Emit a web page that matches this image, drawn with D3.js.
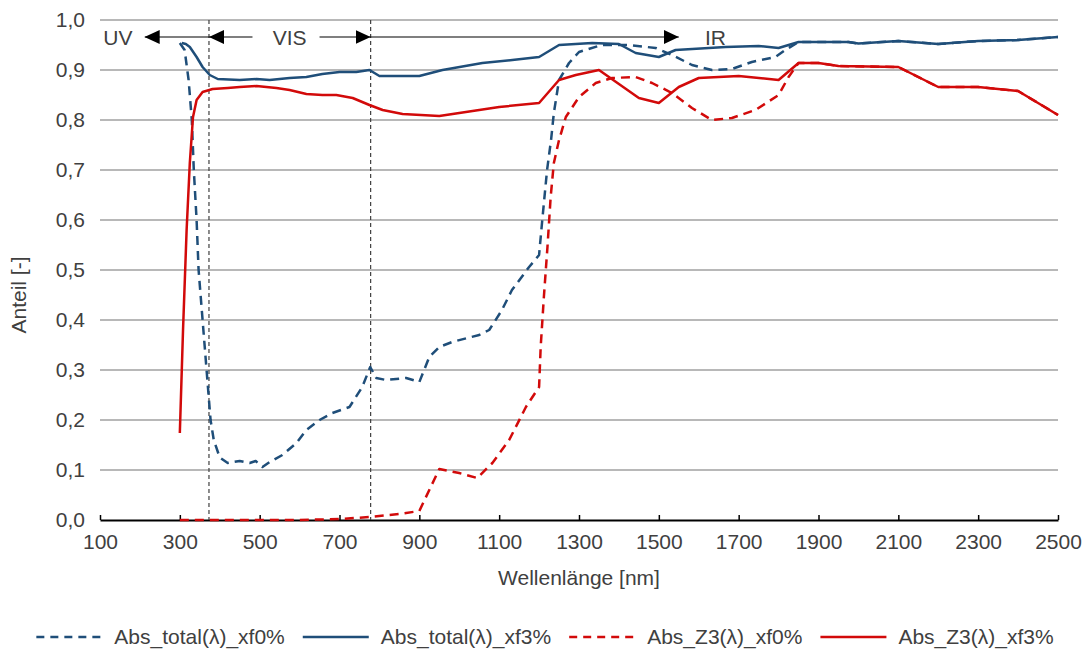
<!DOCTYPE html>
<html>
<head>
<meta charset="utf-8">
<script src="https://cdn.jsdelivr.net/npm/d3@7"></script>
<style>
  body { margin: 0; background: #fff; }
  text { font-family: "Liberation Sans", Arial, sans-serif; fill: #404040; }
</style>
</head>
<body>
<svg id="chart"></svg>
<script>
// wavelength [nm] / share values
var totalXf0 = [[300,0.954],[312,0.94],[322,0.88],[330,0.80],[335,0.70],[342,0.60],[347,0.50],[357,0.40],[367,0.30],[377,0.20],[385,0.16],[400,0.125],[420,0.114],[450,0.118],[475,0.114],[490,0.118],[507,0.106],[525,0.116],[557,0.13],[592,0.154],[617,0.18],[650,0.20],[682,0.214],[725,0.226],[757,0.266],[777,0.306],[792,0.284],[817,0.28],[867,0.284],[900,0.276],[925,0.326],[950,0.346],[982,0.356],[1050,0.37],[1075,0.38],[1107,0.42],[1132,0.46],[1175,0.506],[1200,0.53],[1208,0.6],[1220,0.70],[1230,0.76],[1237,0.814],[1250,0.88],[1275,0.914],[1300,0.936],[1357,0.95],[1425,0.95],[1492,0.944],[1533,0.93],[1583,0.91],[1633,0.90],[1683,0.902],[1733,0.916],[1792,0.926],[1817,0.94],[1850,0.956],[1975,0.956],[2000,0.953],[2100,0.958],[2200,0.952],[2300,0.958],[2400,0.96],[2500,0.966]];
var totalXf3 = [[305,0.954],[315,0.952],[325,0.946],[342,0.926],[357,0.906],[375,0.89],[395,0.882],[450,0.88],[492,0.882],[525,0.88],[575,0.884],[617,0.886],[657,0.892],[700,0.896],[742,0.896],[775,0.9],[800,0.888],[900,0.888],[958,0.90],[1058,0.914],[1133,0.92],[1200,0.926],[1250,0.95],[1333,0.954],[1400,0.952],[1442,0.934],[1500,0.926],[1542,0.94],[1667,0.946],[1750,0.948],[1800,0.944],[1850,0.956],[1975,0.956],[2000,0.953],[2100,0.958],[2200,0.952],[2300,0.958],[2400,0.96],[2500,0.966]];
var z3Xf0 = [[300,0],[400,0],[500,0],[600,0],[700,0.002],[775,0.006],[850,0.012],[900,0.018],[950,0.102],[1000,0.094],[1045,0.084],[1083,0.114],[1125,0.16],[1167,0.226],[1200,0.266],[1204,0.346],[1212,0.446],[1221,0.546],[1229,0.646],[1237,0.714],[1250,0.76],[1267,0.806],[1300,0.846],[1342,0.874],[1383,0.884],[1442,0.886],[1483,0.874],[1533,0.854],[1583,0.824],[1633,0.80],[1683,0.804],[1742,0.82],[1800,0.85],[1825,0.886],[1850,0.914],[1900,0.914],[1950,0.908],[2100,0.906],[2200,0.866],[2300,0.866],[2400,0.858],[2500,0.81]];
var z3Xf3 = [[300,0.174],[308,0.38],[317,0.58],[325,0.714],[333,0.806],[342,0.84],[357,0.856],[382,0.862],[420,0.864],[450,0.866],[492,0.868],[542,0.864],[575,0.86],[617,0.852],[657,0.85],[692,0.85],[733,0.844],[775,0.83],[808,0.82],[858,0.812],[950,0.808],[1100,0.826],[1200,0.834],[1250,0.88],[1292,0.89],[1350,0.90],[1450,0.844],[1500,0.834],[1550,0.866],[1600,0.884],[1700,0.888],[1800,0.88],[1850,0.914],[1900,0.914],[1950,0.908],[2100,0.906],[2200,0.866],[2300,0.866],[2400,0.858],[2500,0.81]];

var seriesNames = ["Abs_total(λ)_xf0%", "Abs_total(λ)_xf3%", "Abs_Z3(λ)_xf0%", "Abs_Z3(λ)_xf3%"];
var xTicks = [100,300,500,700,900,1100,1300,1500,1700,1900,2100,2300,2500];
var yTicks = [0,0.1,0.2,0.3,0.4,0.5,0.6,0.7,0.8,0.9,1.0];

// range borders (dashed verticals) and arrow annotations, in nm
var borders = [373, 778];
var bandArrows = [
    {from: 373, to: 212},
    {from: 482, to: 373},
    {from: 650, to: 778},
    {from: 778, to: 1550}
];
var bandLabels = [["UV", 145], ["VIS", 575], ["IR", 1642]];
var arrowLevel = 0.966;

var width = 1090, height = 650;
var margin = {top: 20, right: 32, bottom: 130, left: 100};
var fontSize = "21px";

var svg = d3.select("svg#chart")
    .attr("width", width)
    .attr("height", height);

var xScale = d3.scaleLinear()
    .domain([100, 2500])
    .range([margin.left, width - margin.right]);

var yScale = d3.scaleLinear()
    .domain([0, 1])
    .range([height - margin.bottom, margin.top]);

var fmt = function(d) { return d3.format(".1f")(d).replace(".", ","); };

// grid lines
svg.append("g")
    .selectAll("line")
    .data(yTicks.filter(function(d) { return d > 0; }))
    .enter()
    .append("line")
    .attr("x1", xScale(100))
    .attr("x2", xScale(2500))
    .attr("y1", function(d) { return yScale(d); })
    .attr("y2", function(d) { return yScale(d); })
    .style("stroke", "#a0a0a0")
    .style("stroke-width", 1.5);

// y labels, no axis line
svg.append("g")
    .selectAll("text")
    .data(yTicks)
    .enter()
    .append("text")
    .attr("x", xScale(100) - 15)
    .attr("y", function(d) { return yScale(d); })
    .attr("dy", "0.35em")
    .attr("text-anchor", "end")
    .style("font-size", fontSize)
    .text(fmt);

// x axis
var xAxis = svg.append("g")
    .attr("transform", "translate(0," + yScale(0) + ")")
    .call(d3.axisBottom(xScale)
        .tickValues(xTicks)
        .tickFormat(d3.format("d"))
        .tickSize(-5)
        .tickPadding(14)
        .tickSizeOuter(0));
xAxis.select(".domain").style("stroke", "#000").style("stroke-width", 2);
xAxis.selectAll(".tick line").style("stroke", "#000").style("stroke-width", 1.5);
xAxis.selectAll("text")
    .style("font-size", fontSize)
    .style("font-family", "Liberation Sans, Arial, sans-serif")
    .style("fill", "#404040");

svg.append("text")
    .attr("x", (xScale(100) + xScale(2500)) / 2)
    .attr("y", yScale(0) + 65)
    .attr("text-anchor", "middle")
    .style("font-size", fontSize)
    .text("Wellenlänge [nm]");

svg.append("text")
    .attr("transform", "translate(26," + yScale(0.45) + ") rotate(-90)")
    .attr("text-anchor", "middle")
    .style("font-size", fontSize)
    .text("Anteil [-]");

// dashed region borders
svg.append("g")
    .selectAll("line")
    .data(borders)
    .enter()
    .append("line")
    .attr("x1", function(d) { return xScale(d); })
    .attr("x2", function(d) { return xScale(d); })
    .attr("y1", yScale(1))
    .attr("y2", yScale(0))
    .style("stroke", "#404040")
    .style("stroke-width", 1.2)
    .style("stroke-dasharray", "4,3");

// arrow head
svg.append("defs").append("marker")
    .attr("id", "head")
    .attr("viewBox", "0 0 15 14")
    .attr("refX", 15)
    .attr("refY", 7)
    .attr("markerWidth", 15)
    .attr("markerHeight", 14)
    .attr("markerUnits", "userSpaceOnUse")
    .attr("orient", "auto")
    .append("path")
    .attr("d", "M0,0 L15,7 L0,14 Z")
    .style("fill", "#000");

svg.append("g")
    .selectAll("line")
    .data(bandArrows)
    .enter()
    .append("line")
    .attr("x1", function(d) { return xScale(d.from); })
    .attr("x2", function(d) { return xScale(d.to); })
    .attr("y1", yScale(arrowLevel))
    .attr("y2", yScale(arrowLevel))
    .attr("marker-end", "url(#head)")
    .style("stroke", "#000")
    .style("stroke-width", 1.2);

svg.append("g")
    .selectAll("text")
    .data(bandLabels)
    .enter()
    .append("text")
    .attr("x", function(d) { return xScale(d[1]); })
    .attr("y", yScale(arrowLevel))
    .attr("dy", "0.36em")
    .attr("text-anchor", "middle")
    .style("font-size", fontSize)
    .text(function(d) { return d[0]; });

// series
var line = d3.line()
    .x(function(d) { return xScale(d[0]); })
    .y(function(d) { return yScale(d[1]); });

var blue = "#1f4e79", red = "#d20a0a";
var series = [
    {data: totalXf0, color: blue, dash: "9,6"},
    {data: totalXf3, color: blue, dash: null},
    {data: z3Xf0, color: red, dash: "9,6"},
    {data: z3Xf3, color: red, dash: null}
];

svg.append("g")
    .selectAll("path")
    .data(series)
    .enter()
    .append("path")
    .attr("d", function(d) { return line(d.data); })
    .style("fill", "none")
    .style("stroke", function(d) { return d.color; })
    .style("stroke-width", 2.5)
    .style("stroke-linejoin", "round")
    .style("stroke-dasharray", function(d) { return d.dash; });

// legend: sample line + text, laid out left to right, then centred
var sampleLen = 66, sampleGap = 12, itemGap = 18;
var legend = svg.append("g");
var items = legend.selectAll("g")
    .data(series)
    .enter()
    .append("g");

items.append("line")
    .attr("x1", 0)
    .attr("x2", sampleLen)
    .style("stroke", function(d) { return d.color; })
    .style("stroke-width", 2.5)
    .style("stroke-dasharray", function(d) { return d.dash ? "8,6" : null; });

items.append("text")
    .attr("x", sampleLen + sampleGap)
    .attr("dy", "0.35em")
    .style("font-size", fontSize)
    .text(function(d, i) { return seriesNames[i]; });

var pos = 0;
items.each(function() {
    var w = sampleLen + sampleGap + d3.select(this).select("text").node().getComputedTextLength();
    d3.select(this).attr("transform", "translate(" + pos + ",0)");
    pos += w + itemGap;
});
var total = pos - itemGap;
legend.attr("transform", "translate(" + ((30 + 1060 - total) / 2) + ",637)");
</script>
</body>
</html>
